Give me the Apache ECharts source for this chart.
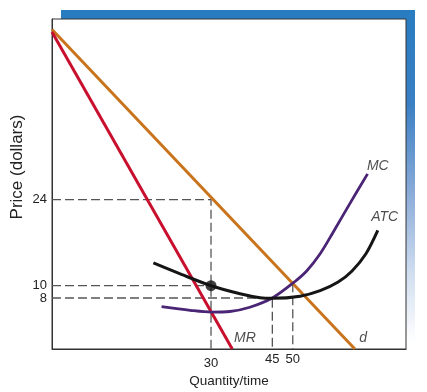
<!DOCTYPE html>
<html>
<head>
<meta charset="utf-8">
<script src="https://cdn.jsdelivr.net/npm/echarts@6/dist/echarts.min.js"></script>
<style>
html,body{margin:0;padding:0;background:#fff;}
#chart{width:427px;height:392px;}
</style>
</head>
<body>
<div id="chart"></div>
<script>
// ---- data ----
const quantityTicks = [30, 45, 50];
const priceTicks = [8, 10, 24];
const qMin = -8.9, qMax = 77.7, pMin = -0.3, pMax = 53.4;

const demand = [[-8.9, 51.7], [65.2, -0.3]];
const marginalRevenue = [[-8.9, 51.3], [35.2, -0.3]];
const marginalCost = [[17.9, 6.6], [24.9, 6.0], [30, 5.7], [34.6, 5.8], [39.5, 6.5], [45, 8], [50, 10.4], [53.4, 12.4], [56.7, 15.2], [59.7, 18.5], [64.0, 23.4], [68.3, 28.2]];
const averageTotalCost = [[15.9, 13.7], [22.9, 11.8], [30, 10], [37.1, 8.7], [42.0, 8.05], [45, 7.95], [51.8, 8.3], [56.7, 9.2], [61.1, 10.6], [64.5, 12.4], [67.9, 15.2], [70.8, 19.0]];
const equilibrium = [[30, 10]];

const guides = [
  [[qMin, 24], [30, 24], [30, pMin]],
  [[qMin, 10], [30, 10]],
  [[qMin, 8], [45, 8], [45, pMin]],
  [[50, 10.4], [50, pMin]]
];

const curveLabels = [
  { name: 'MC', value: [70.8, 29.4] },
  { name: 'ATC', value: [72.5, 21.1] },
  { name: 'MR', value: [38.3, 1.45] },
  { name: 'd', value: [67.2, 1.4] }
];

const chart = echarts.init(document.getElementById('chart'), null, { renderer: 'canvas' });
const FONT = '"Liberation Sans", Arial, Helvetica, sans-serif';

const guideSeries = guides.map(g => ({
  type: 'line', data: g, symbol: 'none', silent: true, z: 1,
  lineStyle: { color: '#555', width: 1.3, type: [9, 4] }
}));

// the close price ticks (8 and 10) are split over two identical axes so neither label is dropped
const priceAxis = (ticks, showLine) => ({
  type: 'value', min: pMin, max: pMax, position: 'left',
  axisLine: { show: showLine, onZero: false, lineStyle: { color: '#333', width: 1 } },
  axisTick: { show: false },
  splitLine: { show: false },
  axisLabel: { customValues: ticks, margin: 5, fontSize: 13, color: '#222', fontFamily: FONT, hideOverlap: false }
});

chart.setOption({
  animation: false,
  backgroundColor: '#fff',
  textStyle: { fontFamily: FONT },
  grid: { left: 52, right: 21, top: 19, bottom: 43, show: true, borderColor: '#333', borderWidth: 1, backgroundColor: '#fff', containLabel: false, outerBoundsMode: 'none' },
  xAxis: {
    type: 'value', min: qMin, max: qMax,
    name: 'Quantity/time', nameLocation: 'middle', nameGap: 25, nameMoveOverlap: false,
    nameTextStyle: { fontSize: 13.5, color: '#222', fontFamily: FONT },
    axisLine: { show: true, onZero: false, lineStyle: { color: '#333', width: 1 } },
    axisTick: { show: false },
    splitLine: { show: false },
    axisLabel: {
      customValues: quantityTicks, margin: 4, fontSize: 13, lineHeight: 12, color: '#222', fontFamily: FONT, hideOverlap: false,
      formatter: v => v === 30 ? '{low|30}' : String(v),
      rich: { low: { padding: [9, 0, 0, 0], fontSize: 13, lineHeight: 12, color: '#222', fontFamily: FONT } }
    }
  },
  yAxis: [
    priceAxis(priceTicks.filter((v, i) => i % 2 === 0), true),
    priceAxis(priceTicks.filter((v, i) => i % 2 === 1), false)
  ],
  graphic: [
    { type: 'rect', z: -10, shape: { x: 61, y: 10, width: 354, height: 9 }, style: { fill: '#2a7cc1' } },
    { type: 'rect', z: -10, shape: { x: 406, y: 10, width: 9, height: 332 },
      style: { fill: new echarts.graphic.LinearGradient(0, 0, 0, 1, [
        { offset: 0, color: '#2a7cc1' }, { offset: 0.28, color: '#3a7fc3' },
        { offset: 0.55, color: '#8aabd9' }, { offset: 0.8, color: '#d2dff0' }, { offset: 1, color: '#ffffff' }]) } },
    { type: 'text', x: 17, y: 167, rotation: Math.PI / 2,
      style: { text: 'Price (dollars)', fontSize: 17, fill: '#222', fontFamily: FONT, align: 'center', verticalAlign: 'middle' } }
  ],
  series: [
    ...guideSeries,
    { type: 'line', name: 'd', data: demand, symbol: 'none', z: 3, lineStyle: { color: '#c9741c', width: 3 } },
    { type: 'line', name: 'MR', data: marginalRevenue, symbol: 'none', z: 4, lineStyle: { color: '#c8102e', width: 3 } },
    { type: 'line', name: 'MC', data: marginalCost, symbol: 'none', smooth: 0.3, z: 5, lineStyle: { color: '#4a2475', width: 2.8 } },
    { type: 'line', name: 'ATC', data: averageTotalCost, symbol: 'none', smooth: 0.3, z: 6, lineStyle: { color: '#151515', width: 3 } },
    { type: 'scatter', data: equilibrium, symbol: 'circle', symbolSize: 11, z: 7, itemStyle: { color: '#111' } },
    { type: 'scatter', data: curveLabels, symbolSize: 0, z: 8, silent: true,
      label: { show: true, position: 'inside', formatter: p => p.name, fontSize: 14, fontStyle: 'italic', color: '#222', fontFamily: FONT } }
  ]
});
</script>
</body>
</html>
